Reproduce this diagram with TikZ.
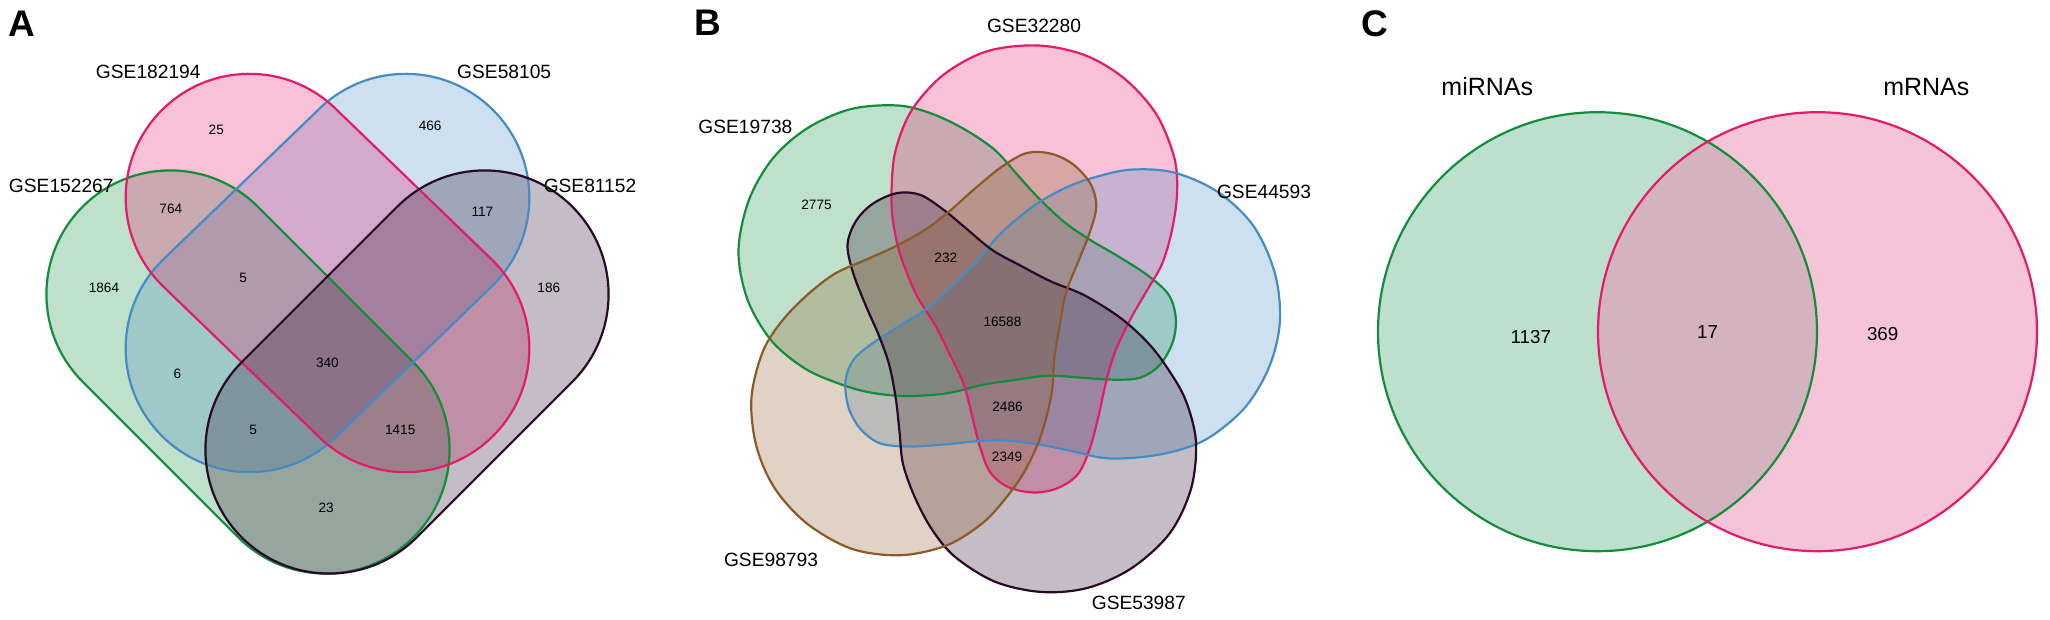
\documentclass[tikz,border=0pt]{standalone}
\usepackage{fontspec}
\setmainfont{Liberation Sans}
\usetikzlibrary{shapes.misc}
\definecolor{cpink}{RGB}{228,26,106}
\definecolor{cgreen}{RGB}{20,140,60}
\definecolor{cblue}{RGB}{70,140,195}
\definecolor{cpurple}{RGB}{40,10,40}
\definecolor{cbrown}{RGB}{140,90,40}
\definecolor{fgreenC}{RGB}{121,193,153}
\definecolor{fpinkC}{RGB}{235,137,177}
% one petal of the five-set diagram, drawn about the centre of panel B
\newcommand{\petal}[1]{%
  \path[shift={(1000,322)},#1] plot[smooth cycle, tension=0.55] coordinates {
   (38,-276.5) (85.4,-266.6) (125,-242.9) (156.6,-207.3) (174.4,-163.8) (177,-128)
   (172,-92) (162,-58) (146,-30) (130,-2) (115,30) (106,60) (99,92) (90,126)
   (78,152) (58,166) (34,170.5) (8,165) (-10,150) (-20,125) (-27,98) (-36,63)
   (-50,33) (-65,3) (-84,-28) (-100,-68) (-107.5,-104.5) (-108.3,-136.2)
   (-104.4,-171.7) (-88.6,-211.3) (-56.9,-246.9) (-13.4,-270.6)};}
\begin{document}
\begin{tikzpicture}[x=0.5pt,y=-0.5pt,
  setfill/.style={draw=none, fill opacity=0.27},
  setline/.style={line width=1.1pt, fill=none},
  stad/.style={rounded rectangle, inner sep=0pt, minimum height=123.8pt},
  setlabel/.style={font=\fontsize{9.6}{11}\selectfont, inner sep=0pt},
  cnt/.style={font=\fontsize{6.8}{8}\selectfont, inner sep=0pt},
  bigcnt/.style={font=\fontsize{9.4}{11}\selectfont, inner sep=0pt},
  biglabel/.style={font=\fontsize{12.5}{14}\selectfont, inner sep=0pt},
  panel/.style={font=\fontsize{18.5}{20}\selectfont\bfseries, inner sep=0pt}]
\useasboundingbox (0,0) rectangle (2050,620);

% ---------------- Panel A ----------------
\node[stad, setfill, minimum width=233.8pt, rotate=-45, fill=cgreen] (sA1) at (248,372) {};
\node[stad, setfill, minimum width=232.3pt, rotate=44, fill=cblue] (sA2) at (327.5,273) {};
\node[stad, setfill, minimum width=232.3pt, rotate=-44, fill=cpink] (sA3) at (327.5,273) {};
\node[stad, setfill, minimum width=233.8pt, rotate=45, fill=cpurple] (sA4) at (407,372) {};
\node[stad, setline, minimum width=233.8pt, rotate=-45, draw=cgreen] (oA1) at (sA1.center) {};
\node[stad, setline, minimum width=232.3pt, rotate=44, draw=cblue] (oA2) at (sA2.center) {};
\node[stad, setline, minimum width=232.3pt, rotate=-44, draw=cpink] (oA3) at (sA3.center) {};
\node[stad, setline, minimum width=233.8pt, rotate=45, draw=cpurple] (oA4) at (sA4.center) {};

\node[panel] (tA) at (21.7,23.7) {A};
\node[setlabel] (lA1) at (148.3,72) {GSE182194};
\node[setlabel] (lA2) at (504.2,72) {GSE58105};
\node[setlabel] (lA3) at (61.3,185.8) {GSE152267};
\node[setlabel] (lA4) at (590,185.8) {GSE81152};

\node[cnt] (nA1) at (216.3,129.7) {25};
\node[cnt] (nA2) at (430.2,125.7) {466};
\node[cnt] (nA3) at (170.8,208.4) {764};
\node[cnt] (nA4) at (482.4,211.5) {117};
\node[cnt] (nA5) at (104,287.9) {1864};
\node[cnt] (nA6) at (548.8,287.9) {186};
\node[cnt] (nA7) at (243.2,278) {5};
\node[cnt] (nA8) at (327.4,362.6) {340};
\node[cnt] (nA9) at (177.5,373.7) {6};
\node[cnt] (nA10) at (253.1,430.2) {5};
\node[cnt] (nA11) at (400.2,430.2) {1415};
\node[cnt] (nA12) at (326.2,508.1) {23};

% ---------------- Panel B ----------------
\petal{setfill, fill=cgreen, rotate=72}
\petal{setfill, fill=cpink}
\petal{setfill, fill=cblue, rotate=-72}
\petal{setfill, fill=cpurple, rotate=-144}
\petal{setfill, fill=cbrown, rotate=144}
\petal{setline, draw=cgreen, rotate=72}
\petal{setline, draw=cpink}
\petal{setline, draw=cblue, rotate=-72}
\petal{setline, draw=cpurple, rotate=-144}
\petal{setline, draw=cbrown, rotate=144}

\node[panel] (tB) at (707.8,22.9) {B};
\node[setlabel] (lB1) at (1034,25.7) {GSE32280};
\node[setlabel] (lB2) at (745.4,127.3) {GSE19738};
\node[setlabel] (lB3) at (1264,191.5) {GSE44593};
\node[setlabel] (lB4) at (771,559.5) {GSE98793};
\node[setlabel] (lB5) at (1138.8,603) {GSE53987};

\node[cnt] (nB1) at (816.5,204.4) {2775};
\node[cnt] (nB2) at (945.8,257.8) {232};
\node[cnt] (nB3) at (1002.4,322.3) {16588};
\node[cnt] (nB4) at (1007.5,407.3) {2486};
\node[cnt] (nB5) at (1007.1,456.7) {2349};

% ---------------- Panel C ----------------
\fill[fgreenC, fill opacity=0.5] (1597.5,331.7) circle[radius=109.75pt];
\fill[fpinkC, fill opacity=0.5] (1817.5,331.7) circle[radius=109.75pt];
\draw[setline, draw=cgreen] (1597.5,331.7) circle[radius=109.75pt];
\draw[setline, draw=cpink] (1817.5,331.7) circle[radius=109.75pt];

\node[panel] (tC) at (1374.6,23.7) {C};
\node[biglabel] (lC1) at (1487.3,87) {miRNAs};
\node[biglabel] (lC2) at (1926.3,87) {mRNAs};
\node[bigcnt] (nC1) at (1530.8,336.9) {1137};
\node[bigcnt] (nC2) at (1707.6,332.1) {17};
\node[bigcnt] (nC3) at (1882.7,334.1) {369};
\end{tikzpicture}
\end{document}
